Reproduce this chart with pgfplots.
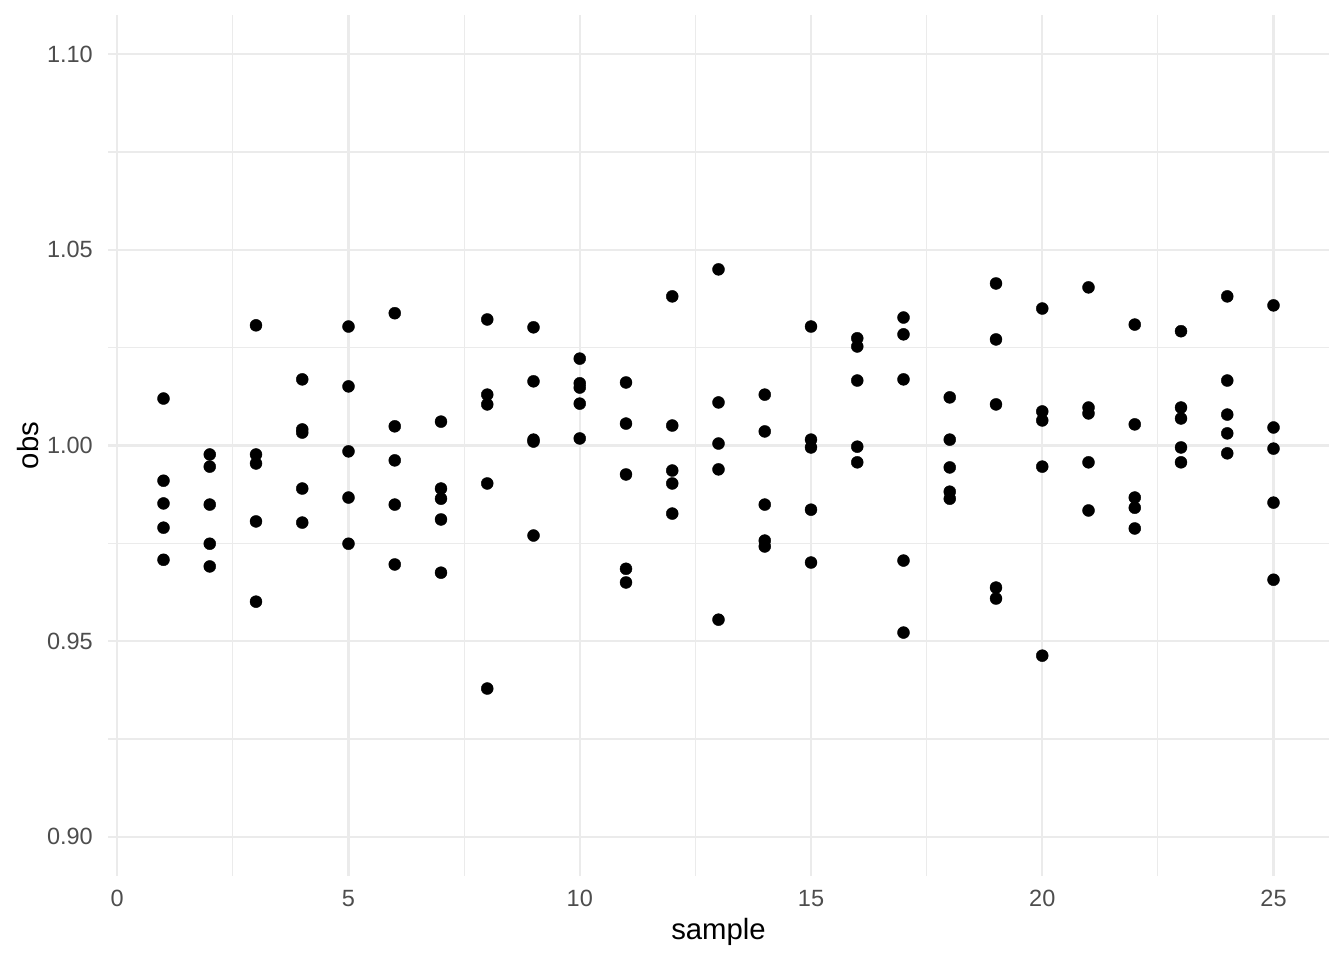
\documentclass[border=0pt]{standalone}
\usepackage{fontspec}
\setmainfont{Liberation Sans}
\usepackage{pgfplots}
\usepackage{pgfplotstable}
\pgfplotsset{compat=1.18}
\definecolor{gridc}{HTML}{EBEBEB}
\definecolor{tickc}{HTML}{4D4D4D}
\pgfplotstableread{
x y
1 1.0120
1 0.9910
1 0.9852
1 0.9790
1 0.9708
2 0.9977
2 0.9946
2 0.9849
2 0.9749
2 0.9691
3 1.0307
3 0.9977
3 0.9954
3 0.9806
3 0.9601
4 1.0169
4 1.0041
4 1.0033
4 0.9890
4 0.9803
5 1.0304
5 1.0151
5 0.9985
5 0.9867
5 0.9749
6 1.0338
6 1.0049
6 0.9962
6 0.9849
6 0.9696
7 1.0061
7 0.9890
7 0.9864
7 0.9811
7 0.9675
8 1.0322
8 1.0130
8 1.0105
8 0.9903
8 0.9379
9 1.0302
9 1.0164
9 1.0015
9 1.0010
9 0.9770
10 1.0222
10 1.0159
10 1.0148
10 1.0107
10 1.0018
11 1.0161
11 1.0056
11 0.9926
11 0.9685
11 0.9650
12 1.0381
12 1.0051
12 0.9936
12 0.9903
12 0.9826
13 1.0450
13 1.0110
13 1.0005
13 0.9939
13 0.9555
14 1.0130
14 1.0036
14 0.9849
14 0.9757
14 0.9742
15 1.0304
15 1.0015
15 0.9995
15 0.9836
15 0.9701
16 1.0274
16 1.0253
16 1.0166
16 0.9997
16 0.9957
17 1.0327
17 1.0284
17 1.0169
17 0.9706
17 0.9522
18 1.0123
18 1.0015
18 0.9944
18 0.9882
18 0.9864
19 1.0414
19 1.0271
19 1.0105
19 0.9637
19 0.9609
20 1.0350
20 1.0087
20 1.0064
20 0.9946
20 0.9463
21 1.0404
21 1.0097
21 1.0082
21 0.9957
21 0.9834
22 1.0309
22 1.0054
22 0.9867
22 0.9841
22 0.9788
23 1.0292
23 1.0097
23 1.0069
23 0.9995
23 0.9957
24 1.0381
24 1.0166
24 1.0079
24 1.0031
24 0.9980
25 1.0358
25 1.0046
25 0.9992
25 0.9854
25 0.9657
}\obsdata
\begin{document}
\begin{tikzpicture}
\useasboundingbox (0,0) rectangle (1344bp,960bp);
\begin{axis}[
  at={(108bp,84bp)}, anchor=south west,
  scale only axis,
  width=1221bp, height=861bp,
  xmin=-0.2, xmax=26.2,
  ymin=0.89, ymax=1.11,
  xtick={0,5,10,15,20,25},
  ytick={0.90,0.95,1.00,1.05,1.10},
  minor xtick={2.5,7.5,12.5,17.5,22.5},
  minor ytick={0.925,0.975,1.025,1.075},
  grid=both,
  major grid style={draw=gridc, line width=2.4bp},
  minor grid style={draw=gridc, line width=1.2bp},
  major tick length=0pt, minor tick length=0pt,
  axis line style={draw=none},
  scaled y ticks=false,
  /pgf/number format/assume math mode=true,
  yticklabel style={/pgf/number format/.cd, fixed, fixed zerofill, precision=2, /tikz/.cd,
    anchor=east, inner sep=0pt, xshift=-15bp, text=tickc,
    font=\fontsize{23.5bp}{28bp}\selectfont},
  xticklabel style={anchor=north, inner sep=0pt, yshift=-14bp, text=tickc,
    font=\fontsize{23.5bp}{28bp}\selectfont},
  xlabel={sample},
  ylabel={obs},
  xlabel style={at={(axis description cs:0.5,-0.0743)}, anchor=base, inner sep=0pt,
    font=\fontsize{29.3bp}{34bp}\selectfont},
  ylabel style={at={(axis description cs:-0.0573,0.5)}, anchor=base, inner sep=0pt, rotate=0,
    font=\fontsize{29.3bp}{34bp}\selectfont},
]
\addplot[only marks, mark=*, mark size=6bp, mark options={fill=black, draw=none}] table[x=x,y=y]{\obsdata};
\end{axis}
\end{tikzpicture}
\end{document}
